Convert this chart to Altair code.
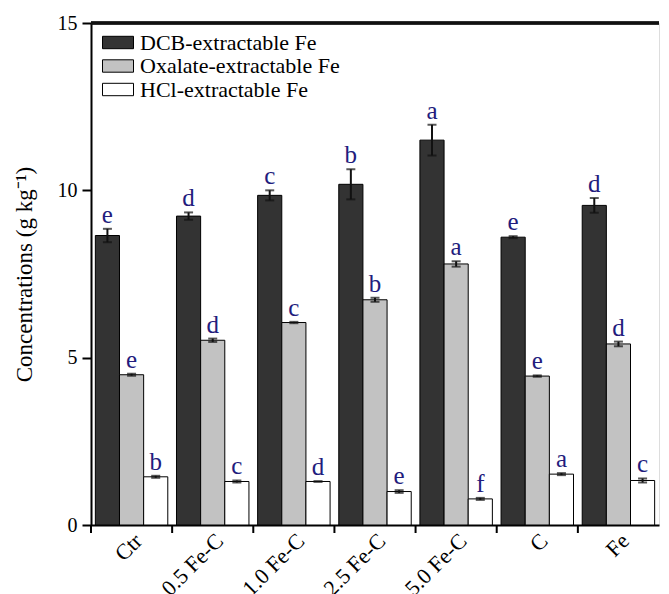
import altair as alt
import pandas as pd

groups = ["Ctr", "0.5 Fe-C", "1.0 Fe-C", "2.5 Fe-C", "5.0 Fe-C", "C", "Fe"]
series = ["DCB-extractable Fe", "Oxalate-extractable Fe", "HCl-extractable Fe"]
colors = ["#333333", "#c2c2c2", "#ffffff"]

dcb = [8.65, 9.23, 9.85, 10.18, 11.50, 8.60, 9.55]
dcb_err = [0.20, 0.11, 0.15, 0.45, 0.46, 0.03, 0.22]
dcb_let = ["e", "d", "c", "b", "a", "e", "d"]

oxa = [4.49, 5.52, 6.05, 6.73, 7.80, 4.45, 5.41]
oxa_err = [0.03, 0.05, 0.02, 0.06, 0.08, 0.02, 0.07]
oxa_let = ["e", "d", "c", "b", "a", "e", "d"]

hcl = [1.44, 1.30, 1.30, 1.00, 0.78, 1.52, 1.33]
hcl_err = [0.03, 0.03, 0.01, 0.04, 0.03, 0.03, 0.06]
hcl_let = ["b", "c", "d", "e", "f", "a", "c"]

y_ticks = [0, 5, 10, 15]

rows = []
for s, vals, errs, lets in zip(series, [dcb, oxa, hcl], [dcb_err, oxa_err, hcl_err],
                               [dcb_let, oxa_let, hcl_let]):
    for g, v, e, l in zip(groups, vals, errs, lets):
        rows.append({"group": g, "series": s, "value": v, "lo": v - e, "hi": v + e, "letter": l})
df = pd.DataFrame(rows)

FONT = "Liberation Serif"
H = 502

x = alt.X("group:N", sort=groups, title=None,
          scale=alt.Scale(paddingInner=0, paddingOuter=0),
          axis=alt.Axis(ticks=False, labelAngle=-45, labelAlign="right", labelBaseline="middle",
                        labelFontSize=22, labelFont=FONT, labelColor="black", labelPadding=12,
                        labelOffset=7, domainColor="black", domainWidth=2))
xo = alt.XOffset("series:N", sort=series,
                 scale=alt.Scale(paddingInner=0, paddingOuter=0.18))

base = alt.Chart(df)

bars = base.mark_bar(stroke="black", strokeWidth=1).encode(
    x=x, xOffset=xo,
    y=alt.Y("value:Q", title="Concentrations (g kg⁻¹)",
            scale=alt.Scale(domain=[0, 15], nice=False),
            axis=alt.Axis(values=y_ticks, grid=False, tickSize=9, tickWidth=2, tickColor="black",
                          domainColor="black", domainWidth=2, labelFontSize=20, labelFont=FONT,
                          labelColor="black", labelPadding=5, titleFont=FONT, titleFontSize=23,
                          titleFontWeight="normal", titleColor="black", titlePadding=21)),
    color=alt.Color("series:N", sort=series, title=None,
                    scale=alt.Scale(domain=series, range=colors),
                    legend=alt.Legend(orient="none", legendX=11, legendY=8,
                                      symbolType="M-1,-0.4H1V0.4H-1Z", symbolSize=961,
                                      symbolStrokeColor="black", symbolStrokeWidth=1,
                                      symbolOpacity=1, labelFont=FONT, labelFontSize=22,
                                      labelColor="black", labelOffset=6, rowPadding=0.5,
                                      clipHeight=23, labelLimit=0, padding=0)),
)

err = base.mark_rule(color="#111111", strokeWidth=2).encode(
    x=alt.X("group:N", sort=groups), xOffset=xo, y="lo:Q", y2="hi:Q")
cap_hi = base.mark_tick(color="#111111", size=9, thickness=2).encode(
    x=alt.X("group:N", sort=groups), xOffset=xo, y="hi:Q")
cap_lo = base.mark_tick(color="#111111", size=9, thickness=2).encode(
    x=alt.X("group:N", sort=groups), xOffset=xo, y="lo:Q")

letters = base.mark_text(font=FONT, fontSize=25, color="#231c7d", baseline="bottom", dy=-1).encode(
    x=alt.X("group:N", sort=groups), xOffset=xo, y="hi:Q", text="letter:N")

tick_df = pd.DataFrame({"group": groups})
xticks = alt.Chart(tick_df).mark_rule(color="black", strokeWidth=2).encode(
    x=alt.X("group:N", sort=groups, bandPosition=0),
    y=alt.value(H), y2=alt.value(H + 8))

top_line = alt.Chart(tick_df).mark_rule(color="#111111", strokeWidth=2.5).encode(
    x=alt.value(0), x2=alt.value("width"), y=alt.value(0))

chart = alt.layer(bars, err, cap_hi, cap_lo, letters, xticks, top_line).properties(
    width=653, height=H,
    autosize=alt.AutoSizeParams(type="fit-x", contains="padding"),
    padding={"left": 5, "top": 5, "right": 0, "bottom": 5}
).configure_view(stroke="#888888", strokeWidth=1).configure(background="white")

chart.save("out.html", embed_options={"renderer": "svg", "actions": False})
